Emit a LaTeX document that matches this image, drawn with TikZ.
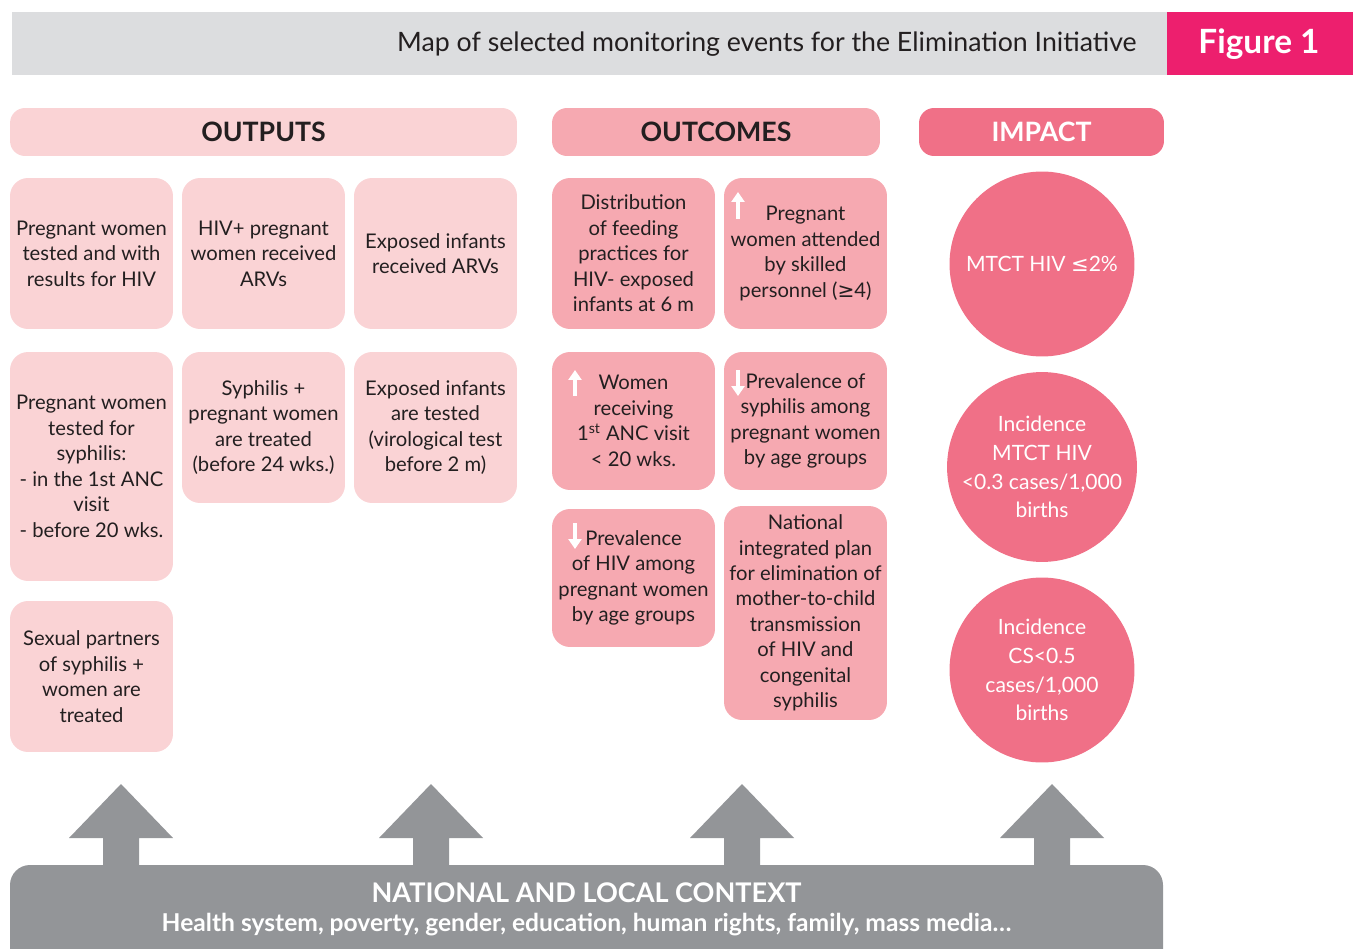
\documentclass[tikz,border=0pt]{standalone}
\usepackage{fontspec}
\setmainfont{Lato}
\newfontfamily\symfont{DejaVu Sans}
\usepackage{xcolor}
\usetikzlibrary{arrows.meta}

\definecolor{headgray}{HTML}{DCDDDF}
\definecolor{figpink}{HTML}{ED1F6E}
\definecolor{outpink}{HTML}{FAD3D5}
\definecolor{comepink}{HTML}{F6A9B1}
\definecolor{imppink}{HTML}{F07087}
\definecolor{ctxgray}{HTML}{939598}
\definecolor{txtdark}{HTML}{231F20}

\tikzset{
  box/.style={rounded corners=0.36cm,align=center,text=txtdark,inner sep=0pt,
    minimum width=3.26cm,font=\fontsize{11.5}{14.5}\selectfont},
  outbox/.style={box,fill=outpink},
  comebox/.style={box,fill=comepink},
  headbox/.style={rounded corners=0.3cm,minimum height=0.96cm,inner sep=0pt,
    font=\bfseries\fontsize{15.2}{17}\selectfont},
  impcirc/.style={circle,fill=imppink,minimum size=3.7cm,inner sep=0pt,
    text=white,align=center,font=\fontsize{12}{16.4}\selectfont},
  icon/.style={white,line width=0.09cm,-{Triangle[width=0.26cm,length=0.2cm]}},
}

\begin{document}
\begin{tikzpicture}[x=0.02cm,y=-0.02cm]
\useasboundingbox (0,0) rectangle (1355,949);

% title bar
\fill[headgray] (12,12) rectangle (1167,75);
\fill[figpink] (1167,12) rectangle (1353,75);
\node (title) at (1137,44) [anchor=east,inner sep=0pt,text=txtdark,font=\fontsize{15.2}{18}\selectfont]
  {Map of selected monitoring events for the Elimination Initiative};
\node (fig) at (1259,44) [text=white,font=\bfseries\fontsize{19}{22}\selectfont] {Figure 1};

% column heads
\node (hout) at (263.5,132) [headbox,fill=outpink,minimum width=10.14cm,text=txtdark] {OUTPUTS};
\node (hcome) at (716,132) [headbox,fill=comepink,minimum width=6.56cm,text=txtdark] {OUTCOMES};
\node (himp) at (1041.5,132) [headbox,fill=imppink,minimum width=4.9cm,text=white] {IMPACT};

% outputs
\node (o11) at (91.5,253.5) [outbox,minimum height=3.02cm]
  {Pregnant women\\tested and with\\results for HIV};
\node (o12) at (263.5,253.5) [outbox,minimum height=3.02cm]
  {HIV+ pregnant\\women received\\ARVs};
\node (o13) at (435.5,253.5) [outbox,minimum height=3.02cm]
  {Exposed infants\\received ARVs};
\node (o21) at (91.5,466.5) [outbox,minimum height=4.58cm]
  {Pregnant women\\tested for\\syphilis:\\- in the 1st ANC\\visit\\- before 20 wks.};
\node (o22) at (263.5,427.5) [outbox,minimum height=3.02cm]
  {Syphilis +\\pregnant women\\are treated\\(before 24 wks.)};
\node (o23) at (435.5,427.5) [outbox,minimum height=3.02cm]
  {Exposed infants\\are tested\\(virological test\\before 2 m)};
\node (o31) at (91.5,676.5) [outbox,minimum height=3.02cm]
  {Sexual partners\\of syphilis +\\women are\\treated};

% outcomes
\node (c11) at (633.5,253.5) [comebox,minimum height=3.02cm]
  {Distribution\\of feeding\\practices for\\HIV- exposed\\infants at 6 m};
\node (c12) at (805.5,253.5) [comebox,minimum height=3.02cm]
  {Pregnant\\women attended\\by skilled\\personnel ({\symfont ≥}4)};
\node (c21) at (633.5,421) [comebox,minimum height=2.76cm]
  {Women\\receiving\\1\textsuperscript{st} ANC visit\\< 20 wks.};
\node (c22) at (805.5,421) [comebox,minimum height=2.76cm]
  {Prevalence of\\syphilis among\\pregnant women\\by age groups};
\node (c31) at (633.5,578) [comebox,minimum height=2.76cm]
  {Prevalence\\of HIV among\\pregnant women\\by age groups};
\node (c32) at (805.5,613) [comebox,minimum height=4.28cm]
  {National\\integrated plan\\for elimination of\\mother-to-child\\transmission\\of HIV and\\congenital\\syphilis};

% up / down marks
\draw[icon] (738,219) -- (738,192);
\draw[icon] (575,396) -- (575,370);
\draw[icon] (738,370) -- (738,396);
\draw[icon] (575,523) -- (575,549);

% impact
\node (i1) at (1042,264) [impcirc] {MTCT HIV {\symfont ≤}2\%};
\node (i2) at (1042,467) [impcirc] {Incidence\\MTCT HIV\\<0.3 cases/1,000\\births};
\node (i3) at (1042,670) [impcirc] {Incidence\\CS<0.5\\cases/1,000\\births};

% context
\foreach \x in {121,431,742,1052}
  \fill[ctxgray] (\x-18,870) -- (\x-18,838) -- (\x-52,838) -- (\x,784)
    -- (\x+52,838) -- (\x+18,838) -- (\x+18,870) -- cycle;
\fill[ctxgray,rounded corners=0.4cm] (10,865) rectangle (1163,990);
\node (ctx) at (586.5,909) [text=white,align=center,font=\bfseries\fontsize{14}{16.4}\selectfont]
  {{\fontsize{15.4}{16.4}\selectfont NATIONAL AND LOCAL CONTEXT}\\
   Health system, poverty, gender, education, human rights, family, mass media\dots};
\end{tikzpicture}
\end{document}
